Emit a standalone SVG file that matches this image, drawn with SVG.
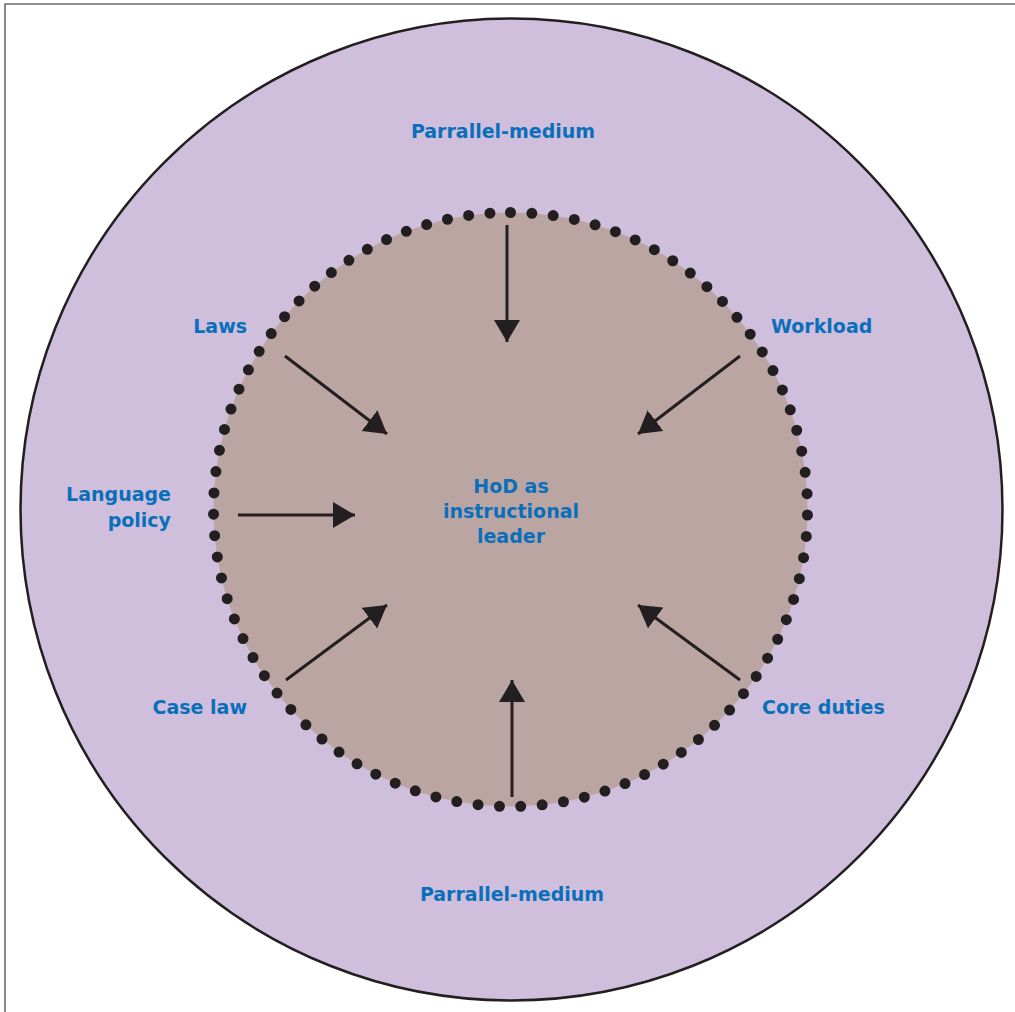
<svg xmlns="http://www.w3.org/2000/svg" width="1015" height="1012" viewBox="0 0 1015 1012">
<style>
.lbl{font-family:"DejaVu Sans","Liberation Sans",sans-serif;font-weight:bold;font-size:19px;fill:#0a6fba}
.arr{stroke:#231f20;stroke-width:3;fill:none}
</style>
<defs>
<marker id="ah" markerUnits="userSpaceOnUse" markerWidth="24" markerHeight="28" refX="22" refY="13" orient="auto">
<path d="M0,0 L22,13 L0,26 Z" fill="#231f20"/>
</marker>
</defs>
<rect x="0" y="0" width="1015" height="1012" fill="#ffffff"/>
<path d="M5,1012 L5,4 L1015,4" fill="none" stroke="#6b6b6b" stroke-width="1.6"/>
<g id="outer">
<circle cx="511.5" cy="509.5" r="491" fill="#cfbfdd" stroke="#231f20" stroke-width="2.5"/>
</g>
<g id="inner">
<circle cx="510.5" cy="509.5" r="297" fill="#bba5a3"/>
<circle cx="510.5" cy="509.5" r="297" fill="none" stroke="#231f20" stroke-width="11" stroke-linecap="round" stroke-dasharray="0 21.45" transform="rotate(-90 510.5 509.5)"/>
<text class="lbl" text-anchor="middle"><tspan x="511" y="493">HoD as</tspan><tspan x="511" y="518">instructional</tspan><tspan x="511" y="543">leader</tspan></text>
</g>
<g id="parallel-top"><text class="lbl" x="503" y="138" text-anchor="middle">Parrallel-medium</text></g>
<g id="laws"><text class="lbl" x="247" y="333" text-anchor="end">Laws</text></g>
<g id="workload"><text class="lbl" x="771" y="333">Workload</text></g>
<g id="language-policy"><text class="lbl" text-anchor="end"><tspan x="171" y="501">Language</tspan><tspan x="171" y="527">policy</tspan></text></g>
<g id="case-law"><text class="lbl" x="247" y="714" text-anchor="end">Case law</text></g>
<g id="core-duties"><text class="lbl" x="762" y="714">Core duties</text></g>
<g id="parallel-bottom"><text class="lbl" x="512" y="901" text-anchor="middle">Parrallel-medium</text></g>
<g id="connectors">
<line class="arr" x1="507" y1="225" x2="507" y2="342" marker-end="url(#ah)"/>
<line class="arr" x1="512" y1="797" x2="512" y2="680" marker-end="url(#ah)"/>
<line class="arr" x1="285" y1="356" x2="387" y2="434" marker-end="url(#ah)"/>
<line class="arr" x1="740" y1="356" x2="638" y2="434" marker-end="url(#ah)"/>
<line class="arr" x1="238" y1="515" x2="355" y2="515" marker-end="url(#ah)"/>
<line class="arr" x1="286" y1="680" x2="387" y2="605" marker-end="url(#ah)"/>
<line class="arr" x1="740" y1="680" x2="638" y2="605" marker-end="url(#ah)"/>
</g>
</svg>
